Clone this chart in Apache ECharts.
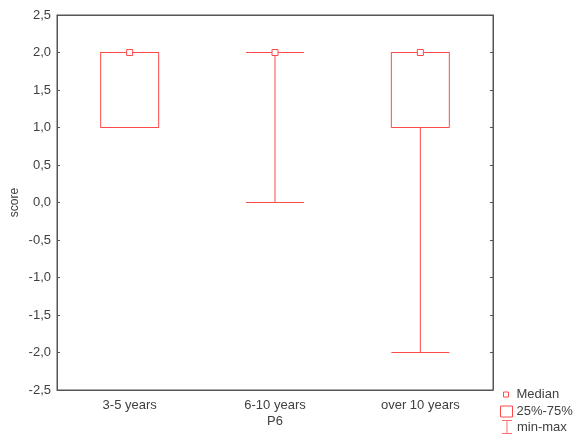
<!DOCTYPE html>
<html>
<head>
<meta charset="utf-8">
<script src="https://cdn.jsdelivr.net/npm/echarts@6/dist/echarts.min.js"></script>
<style>
  html, body { margin: 0; padding: 0; background: #fff; }
  #chart { width: 574px; height: 435px; }
</style>
</head>
<body>
<div id="chart"></div>
<script>
// data
const categories = ["3-5 years", "6-10 years", "over 10 years"];
const mins = [1, 0, -2];
const q1s = [1, 2, 1];
const medians = [2, 2, 2];
const q3s = [2, 2, 2];
const maxs = [2, 2, 2];

const red = "#ff4a4a";
const axisColor = "#555";
const textColor = "#404040";
const font = "Liberation Sans";

const boxData = categories.map((c, i) => [mins[i], q1s[i], medians[i], q3s[i], maxs[i]]);

const chart = echarts.init(document.getElementById("chart"));

const legendText = { color: textColor, fontFamily: font, fontSize: 13 };

const option = {
  animation: false,
  backgroundColor: "#fff",
  grid: {
    left: 57,
    right: 81,
    top: 15,
    bottom: 45,
    outerBoundsMode: "none",
    containLabel: false,
    show: true,
    borderColor: axisColor,
    borderWidth: 1,
  },
  legend: [
    {
      orient: "vertical",
      left: 503,
      top: 388,
      padding: 0,
      selectedMode: false,
      itemWidth: 5,
      itemHeight: 5,
      data: [{
        name: "Median",
        icon: "rect",
        itemStyle: { color: "#fff", borderColor: red, borderWidth: 1 },
      }],
      textStyle: Object.assign({}, legendText, { padding: [0, 0, 0, 3] }),
    },
    {
      orient: "vertical",
      left: 500,
      top: 405,
      padding: 0,
      selectedMode: false,
      itemWidth: 12,
      itemHeight: 11,
      data: [{
        name: "25%-75%",
        icon: "rect",
        itemStyle: { color: "#fff", borderColor: red, borderWidth: 1 },
      }],
      textStyle: Object.assign({}, legendText, { padding: [0, 0, 0, -1] }),
    },
    {
      orient: "vertical",
      left: 502,
      top: 420,
      padding: 0,
      selectedMode: false,
      itemWidth: 10,
      itemHeight: 14,
      data: [{
        name: "min-max",
        icon: "path://M0,0 L10,0 L10,1 L5.5,1 L5.5,13 L10,13 L10,14 L0,14 L0,13 L4.5,13 L4.5,1 L0,1 Z",
        itemStyle: { color: red, borderWidth: 0 },
      }],
      textStyle: Object.assign({}, legendText, { padding: [0, 0, 0, 0] }),
    },
  ],
  xAxis: [
    {
      type: "category",
      data: categories,
      name: "P6",
      nameLocation: "middle",
      nameGap: 25,
      nameMoveOverlap: false,
      nameTextStyle: { color: textColor, fontFamily: font, fontSize: 13 },
      axisLine: { onZero: false, lineStyle: { color: axisColor } },
      axisTick: { inside: true, alignWithLabel: true, length: 3, lineStyle: { color: axisColor } },
      axisLabel: { color: textColor, fontFamily: font, fontSize: 13, margin: 9 },
    },
    {
      type: "category",
      data: categories,
      position: "top",
      axisLine: { onZero: false, lineStyle: { color: axisColor } },
      axisTick: { inside: true, alignWithLabel: true, length: 3, lineStyle: { color: axisColor } },
      axisLabel: { show: false },
    },
  ],
  yAxis: [
    {
      type: "value",
      min: -2.5,
      max: 2.5,
      interval: 0.5,
      name: "score",
      nameLocation: "middle",
      nameGap: 36,
      nameMoveOverlap: false,
      nameTextStyle: { color: textColor, fontFamily: font, fontSize: 12 },
      splitLine: { show: false },
      axisLine: { show: true, onZero: false, lineStyle: { color: axisColor } },
      axisTick: { show: true, inside: true, length: 3, lineStyle: { color: axisColor } },
      axisLabel: {
        color: textColor,
        fontFamily: font,
        fontSize: 13,
        margin: 6,
        formatter: (v) => v.toFixed(1).replace(".", ","),
      },
    },
    {
      type: "value",
      min: -2.5,
      max: 2.5,
      interval: 0.5,
      position: "right",
      splitLine: { show: false },
      axisLine: { show: true, onZero: false, lineStyle: { color: axisColor } },
      axisTick: { show: true, inside: true, length: 3, lineStyle: { color: axisColor } },
      axisLabel: { show: false },
    },
  ],
  series: [
    {
      name: "25%-75%",
      type: "boxplot",
      data: boxData,
      boxWidth: [58, 58],
      itemStyle: { color: "#fff", borderColor: red, borderWidth: 1 },
      emphasis: { disabled: true },
    },
    {
      name: "Median",
      type: "scatter",
      data: medians,
      symbol: "rect",
      symbolSize: 6,
      itemStyle: { color: "#fff", borderColor: red, borderWidth: 1, opacity: 1 },
      z: 5,
    },
    {
      // legend entry only
      name: "min-max",
      type: "scatter",
      data: [],
      itemStyle: { color: red },
    },
  ],
};

chart.setOption(option);
</script>
</body>
</html>
